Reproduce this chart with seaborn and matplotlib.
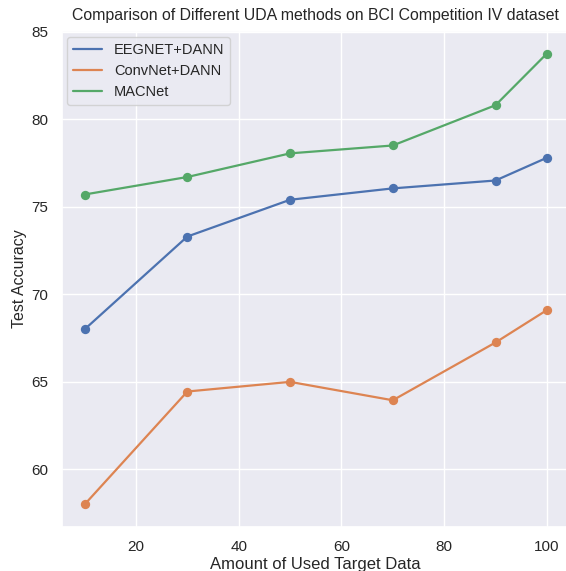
import matplotlib
matplotlib.use("Agg")
import matplotlib.pyplot as plt
import seaborn as sns
import pandas as pd

x_vals = [10, 30, 50, 70, 90, 100]
eegnet_dann = [68.0, 73.3, 75.4, 76.05, 76.5, 77.8]
convnet_dann = [58.0, 64.45, 65.0, 63.95, 67.25, 69.1]
macnet = [75.7, 76.7, 78.05, 78.5, 80.8, 83.75]
series_names = ["EEGNET+DANN", "ConvNet+DANN", "MACNet"]

sns.set_theme(style="darkgrid")
plt.rcParams['font.family'] = ['Liberation Sans', 'DejaVu Sans']

rows = []
for name, vals in zip(series_names, [eegnet_dann, convnet_dann, macnet]):
    for xv, yv in zip(x_vals, vals):
        rows.append({"x": xv, "y": yv, "method": name})
df = pd.DataFrame(rows)

fig = plt.figure(figsize=(5.66, 5.71), dpi=100)
W, H = 566, 571
ax = fig.add_axes([61.5 / W, (H - 527) / H, (570 - 61.5) / W, (527 - 31) / H])

palette = sns.color_palette("deep", 3)
sns.lineplot(data=df, x="x", y="y", hue="method", palette=palette, ax=ax, linewidth=1.6)
for name, col in zip(series_names, palette):
    sub = df[df.method == name]
    ax.scatter(sub.x, sub.y, color=col, s=45, zorder=3, linewidths=0)

ax.set_title("Comparison of Different UDA methods on BCI Competition IV dataset",
             fontsize=11.4, pad=8)
ax.set_xlabel("Amount of Used Target Data", fontsize=12, labelpad=2)
ax.set_ylabel("Test Accuracy", fontsize=11.5, labelpad=3)
ax.tick_params(labelsize=11)
ax.set_yticks([60, 65, 70, 75, 80, 85])
ax.legend(loc="upper left", fontsize=10.5, borderaxespad=0.4)

fig.savefig("out.png", dpi=100)
